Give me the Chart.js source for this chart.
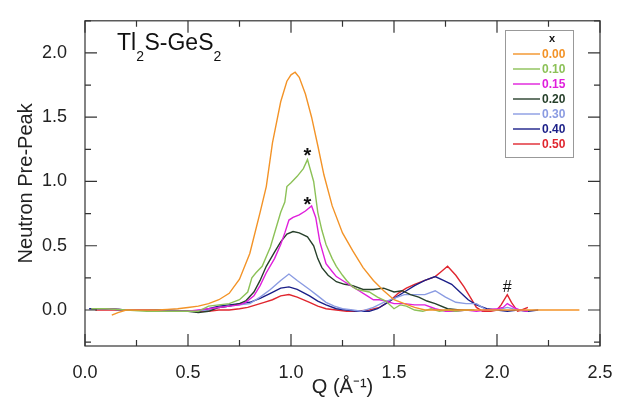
<!DOCTYPE html>
<html><head><meta charset="utf-8">
<script src="https://cdn.jsdelivr.net/npm/chart.js@4.4.1/dist/chart.umd.min.js"></script>
<style>html,body{margin:0;padding:0;background:#fff}#wrap{width:621px;height:402px}</style>
</head><body><div id="wrap"><canvas id="c" width="621" height="402"></canvas></div>
<script>
const seriesLabels = ['0.00','0.10','0.15','0.20','0.30','0.40','0.50'];
const seriesColors = ['#f39327','#8cc157','#e01fdc','#27402b','#8a9be2','#1b1f88','#e0262f'];

const q000 = [0.13,0.16,0.2,0.25,0.3,0.35,0.4,0.45,0.5,0.55,0.6,0.65,0.7,0.75,0.8,0.85,0.88,0.91,0.95,0.98,1.0,1.02,1.04,1.07,1.1,1.13,1.16,1.2,1.25,1.3,1.35,1.4,1.45,1.5,1.55,1.6,1.65,1.7,1.8,1.9,2.0,2.1,2.2,2.3,2.4];
const v000 = [-0.04,-0.02,0.0,0.0,0.0,0.0,0.005,0.01,0.02,0.03,0.05,0.08,0.13,0.24,0.44,0.76,0.96,1.3,1.62,1.78,1.83,1.85,1.81,1.68,1.5,1.28,1.05,0.81,0.6,0.46,0.33,0.23,0.15,0.08,0.05,0.02,0.0,0.0,0.0,0.0,0.0,0.0,0.0,0.0,0.0];

const q010 = [0.03,0.1,0.2,0.3,0.4,0.5,0.55,0.6,0.65,0.7,0.75,0.79,0.81,0.83,0.86,0.9,0.95,0.97,0.98,1.0,1.03,1.06,1.08,1.11,1.13,1.15,1.17,1.2,1.22,1.25,1.27,1.3,1.32,1.35,1.38,1.42,1.46,1.5,1.53,1.56,1.6,1.64,1.68,1.72,1.76,1.8,1.85,1.89];
const v010 = [0.01,0.01,0.0,-0.01,-0.01,-0.01,-0.01,0.03,0.04,0.05,0.08,0.14,0.25,0.29,0.34,0.49,0.76,0.84,0.96,0.99,1.04,1.1,1.17,1.0,0.76,0.62,0.51,0.4,0.34,0.27,0.23,0.18,0.16,0.15,0.14,0.1,0.07,0.01,0.04,0.03,0.0,-0.01,0.01,-0.01,0.0,-0.01,0.0,0.0];

const q015 = [0.05,0.1,0.2,0.3,0.4,0.5,0.6,0.65,0.7,0.75,0.78,0.82,0.85,0.88,0.92,0.95,0.97,0.99,1.01,1.04,1.07,1.10,1.12,1.14,1.17,1.2,1.22,1.26,1.29,1.33,1.37,1.4,1.43,1.46,1.5,1.55,1.6,1.65,1.7,1.75,1.8,1.85,1.9,1.95,2.0,2.03,2.05,2.08,2.11,2.15];
const v015 = [0.01,0.01,0.0,0.0,-0.01,-0.01,0.01,0.02,0.03,0.04,0.06,0.11,0.19,0.29,0.4,0.51,0.6,0.7,0.72,0.74,0.77,0.81,0.72,0.53,0.36,0.3,0.26,0.22,0.19,0.15,0.11,0.08,0.08,0.07,0.05,0.05,0.04,0.04,0.01,-0.01,-0.01,0.0,-0.01,0.0,0.01,0.02,0.05,0.02,0.0,-0.01];

const q020 = [0.05,0.1,0.2,0.3,0.4,0.5,0.55,0.6,0.65,0.7,0.75,0.78,0.82,0.85,0.88,0.92,0.95,0.98,1.01,1.04,1.08,1.11,1.13,1.15,1.18,1.22,1.26,1.3,1.35,1.4,1.45,1.5,1.54,1.58,1.62,1.66,1.7,1.76,1.82,1.88];
const v020 = [0.01,0.01,0.0,0.0,-0.01,-0.01,-0.02,-0.01,0.02,0.03,0.05,0.07,0.14,0.23,0.34,0.45,0.53,0.59,0.61,0.6,0.57,0.5,0.4,0.33,0.27,0.22,0.2,0.19,0.16,0.16,0.17,0.14,0.15,0.12,0.1,0.07,0.05,0.01,0.0,0.0];

const q030 = [0.05,0.1,0.2,0.3,0.4,0.5,0.6,0.65,0.7,0.75,0.8,0.85,0.9,0.95,0.99,1.03,1.09,1.13,1.17,1.21,1.25,1.3,1.34,1.4,1.45,1.5,1.55,1.6,1.65,1.7,1.75,1.8,1.85,1.9,1.95,2.0,2.05,2.1];
const v030 = [0.01,0.01,0.0,0.0,-0.01,-0.01,0.0,0.02,0.03,0.04,0.05,0.1,0.16,0.23,0.28,0.23,0.16,0.11,0.06,0.03,0.01,0.0,-0.01,0.02,0.06,0.09,0.12,0.12,0.12,0.15,0.1,0.06,0.05,0.05,0.0,0.0,0.02,0.0];

const q040 = [0.02,0.1,0.2,0.3,0.4,0.5,0.55,0.6,0.65,0.7,0.75,0.8,0.85,0.9,0.95,0.99,1.03,1.09,1.13,1.17,1.22,1.27,1.32,1.38,1.42,1.46,1.5,1.55,1.6,1.65,1.7,1.74,1.78,1.82,1.86,1.9,1.95,2.0,2.05,2.1,2.15,2.2];
const v040 = [0.01,0.01,0.0,0.0,0.0,-0.01,-0.01,0.01,0.03,0.04,0.05,0.06,0.09,0.13,0.17,0.18,0.16,0.11,0.07,0.04,0.01,0.0,-0.01,-0.01,0.01,0.05,0.09,0.14,0.19,0.23,0.26,0.23,0.2,0.14,0.08,0.04,0.01,0.0,-0.01,0.0,-0.01,0.0];

const q050 = [0.05,0.1,0.2,0.3,0.4,0.5,0.6,0.65,0.7,0.75,0.79,0.83,0.87,0.91,0.95,0.99,1.03,1.09,1.13,1.17,1.22,1.27,1.32,1.38,1.43,1.48,1.52,1.56,1.6,1.65,1.7,1.73,1.76,1.8,1.84,1.87,1.9,1.93,1.97,2.0,2.02,2.05,2.07,2.1,2.12,2.15];
const v050 = [0.0,0.0,0.0,0.0,-0.01,-0.01,-0.01,0.0,0.0,0.01,0.02,0.04,0.06,0.08,0.11,0.12,0.1,0.06,0.03,0.01,0.0,-0.01,-0.01,0.0,0.02,0.07,0.13,0.17,0.2,0.23,0.26,0.3,0.34,0.27,0.18,0.1,0.02,-0.01,-0.01,0.0,0.04,0.12,0.06,-0.01,0.0,0.02];

const xTicks = [0.0,0.5,1.0,1.5,2.0,2.5];
const yTicks = [0.0,0.5,1.0,1.5,2.0];
const xMinor = [0.25,0.75,1.25,1.75,2.25];
const yMinor = [-0.25,0.25,0.75,1.25,1.75,2.25];

const annQ = [1.08,1.08,2.05];
const annV = [1.23,0.85,0.19];
const annText = ['*','*','#'];

const allQ = [q000,q010,q015,q020,q030,q040,q050];
const allV = [v000,v010,v015,v020,v030,v040,v050];

const FONT = '"Liberation Sans", Arial, sans-serif';

const datasets = seriesLabels.map((lab,i)=>({
  label: lab,
  data: allQ[i].map((q,j)=>({x:q,y:allV[i][j]})),
  borderColor: seriesColors[i],
  borderWidth: 1.4,
  pointRadius: 0,
  tension: 0,
  fill: false
}));

const framePlugin = {
  id:'frame',
  afterDraw(chart){
    const ctx = chart.ctx, a = chart.chartArea;
    const xs = chart.scales.x, ys = chart.scales.y;
    ctx.save();
    ctx.strokeStyle = '#333';
    ctx.lineWidth = 1.2;
    ctx.strokeRect(a.left, a.top, a.right-a.left, a.bottom-a.top);
    ctx.beginPath();
    const tk = (list,len)=>{
      list.forEach(v=>{
        const p = xs.getPixelForValue(v);
        ctx.moveTo(p,a.bottom); ctx.lineTo(p,a.bottom-len);
        ctx.moveTo(p,a.top); ctx.lineTo(p,a.top+len);
      });
    };
    const tky = (list,len)=>{
      list.forEach(v=>{
        const p = ys.getPixelForValue(v);
        if (p < a.top-0.5 || p > a.bottom+0.5) return;
        ctx.moveTo(a.left,p); ctx.lineTo(a.left+len,p);
        ctx.moveTo(a.right,p); ctx.lineTo(a.right-len,p);
      });
    };
    tk(xTicks,12); tk(xMinor,6); tky(yTicks,12); tky(yMinor,6);
    ctx.stroke();

    // annotations
    ctx.fillStyle = '#111';
    ctx.textAlign = 'center';
    ctx.textBaseline = 'alphabetic';
    annText.forEach((t,i)=>{
      ctx.font = (t==='*' ? 'bold 20px ' : '16px ') + FONT;
      const m = ctx.measureText(t);
      const cx = xs.getPixelForValue(annQ[i]);
      const cy = ys.getPixelForValue(annV[i]);
      ctx.fillText(t, cx, cy + (m.actualBoundingBoxAscent - m.actualBoundingBoxDescent)/2);
    });

    // title with subscripts
    ctx.textAlign = 'left';
    ctx.fillStyle = '#111';
    let x = 117; const base = 50;
    const parts = [['Tl',false],['2',true],['S-GeS',false],['2',true]];
    parts.forEach(([t,sub])=>{
      ctx.font = (sub ? '14px ' : '23px ') + FONT;
      ctx.fillText(t, x, sub ? base+11 : base);
      x += ctx.measureText(t).width + (sub ? 0.5 : 0);
    });

    // legend box
    ctx.strokeStyle = '#999';
    ctx.lineWidth = 1;
    ctx.strokeRect(505.5, 30.5, 68, 127);
    ctx.fillStyle = '#111';
    ctx.font = 'bold 11px ' + FONT;
    ctx.textAlign = 'center';
    ctx.textBaseline = 'middle';
    ctx.fillText('x', 552, 39);
    ctx.textAlign = 'left';
    ctx.font = 'bold 12px ' + FONT;
    seriesLabels.forEach((lab,i)=>{
      const yy = 54 + i*15;
      ctx.strokeStyle = seriesColors[i];
      ctx.lineWidth = 1.4;
      ctx.beginPath(); ctx.moveTo(513,yy); ctx.lineTo(540,yy); ctx.stroke();
      ctx.fillStyle = seriesColors[i];
      ctx.fillText(lab, 542, yy+0.5);
    });
    ctx.restore();
  }
};

new Chart(document.getElementById('c'), {
  type:'line',
  data:{datasets},
  options:{
    responsive:false,
    animation:false,
    devicePixelRatio:1,
    layout:{padding:{top:9,right:21,left:0,bottom:0}},
    plugins:{legend:{display:false},tooltip:{enabled:false}},
    scales:{
      x:{
        type:'linear', min:0, max:2.5,
        grid:{display:false},
        border:{display:false},
        afterBuildTicks(s){ s.ticks = xTicks.map(v=>({value:v})); },
        afterFit(s){ s.height = 56; },
        ticks:{padding:8, color:'#222', font:{family:FONT,size:18}, maxRotation:0,
               callback:(v)=>Number(v).toFixed(1)},
        title:{display:true, text:'Q (Å\u207B\u00B9)', color:'#222', font:{family:FONT,size:20}, padding:{top:0,bottom:3}}
      },
      y:{
        type:'linear', min:-0.28, max:2.25,
        grid:{display:false},
        border:{display:false},
        afterBuildTicks(s){ s.ticks = yTicks.map(v=>({value:v})); },
        afterFit(s){ s.width = 85; },
        ticks:{padding:10, color:'#222', font:{family:FONT,size:18},
               callback:(v)=>Number(v).toFixed(1)},
        title:{display:true, text:'Neutron Pre-Peak', color:'#222', font:{family:FONT,size:20}, padding:{top:14,bottom:0}}
      }
    }
  },
  plugins:[framePlugin]
});
</script></body></html>
